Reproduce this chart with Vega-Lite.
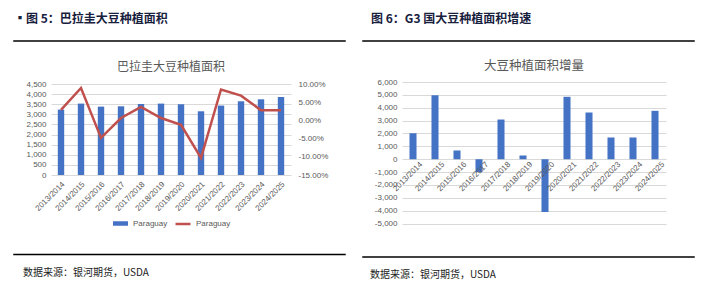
{
  "$schema": "https://vega.github.io/schema/vega-lite/v6.json",
  "background": "white",
  "padding": {"left": 13, "top": 12, "right": 0, "bottom": 0},
  "config": {
    "view": {"stroke": null},
    "font": "Liberation Sans",
    "axis": {"labelColor": "#595959", "labelFontSize": 8, "domain": false, "ticks": false, "gridColor": "#d9d9d9", "title": null, "labelOverlap": false},
    "legend": {"layout": {"bottom": {"anchor": "middle", "direction": "horizontal", "margin": 6}}}
  },
  "spacing": 16,
  "resolve": {"scale": {"fill": "independent", "stroke": "independent"}, "legend": {"fill": "independent", "stroke": "independent"}},
  "hconcat": [
    {
      "spacing": 18.5,
      "resolve": {"scale": {"fill": "independent", "stroke": "independent"}, "legend": {"fill": "independent", "stroke": "independent"}},
      "vconcat": [
        {
          "spacing": 14,
          "resolve": {"scale": {"fill": "independent", "stroke": "independent"}, "legend": {"fill": "independent", "stroke": "independent"}},
          "vconcat": [
            {
              "width": 331, "height": 0.01,
              "view": {"stroke": "black", "strokeWidth": 1.5},
              "data": {"values": [{"part": "header"}]},
              "mark": {"type": "text"},
              "encoding": {"text": {"value": ""}},
              "title": {"text": "▪图 5：巴拉圭大豆种植面积", "anchor": "start", "frame": "group", "font": "Noto Sans CJK SC", "fontSize": 12, "fontWeight": "bold", "color": "#17203d", "offset": 9}
            },
            {
              "spacing": 0,
              "resolve": {"scale": {"fill": "independent", "stroke": "independent"}, "legend": {"fill": "independent", "stroke": "independent"}},
              "hconcat": [
                {
                  "width": 0.01, "height": 0.01,
                  "data": {"values": [{"part": "spacer"}]},
                  "mark": {"type": "text"},
                  "encoding": {"text": {"value": ""}}
                },
                {
                  "width": 240, "height": 91,
                  "title": {"text": "巴拉圭大豆种植面积", "font": "Noto Sans CJK SC", "fontSize": 12, "fontWeight": "normal", "color": "#595959", "offset": 6},
                  "data": {"values": [
                    {"season": "2013/2014", "area": 3234, "growth": 0.029},
                    {"season": "2014/2015", "area": 3531, "growth": 0.089},
                    {"season": "2015/2016", "area": 3382, "growth": -0.048},
                    {"season": "2016/2017", "area": 3397, "growth": 0.0066},
                    {"season": "2017/2018", "area": 3511, "growth": 0.037},
                    {"season": "2018/2019", "area": 3531, "growth": 0.0066},
                    {"season": "2019/2020", "area": 3500, "growth": -0.012},
                    {"season": "2020/2021", "area": 3150, "growth": -0.103},
                    {"season": "2021/2022", "area": 3432, "growth": 0.085},
                    {"season": "2022/2023", "area": 3645, "growth": 0.068},
                    {"season": "2023/2024", "area": 3743, "growth": 0.028},
                    {"season": "2024/2025", "area": 3857, "growth": 0.028}
                  ]},
                  "encoding": {
                    "x": {"field": "season", "type": "ordinal", "sort": null,
                      "scale": {"paddingInner": 0.68, "paddingOuter": 0.34},
                      "axis": {"labelAngle": -45, "labelPadding": 5, "grid": false}}
                  },
                  "layer": [
                    {
                      "mark": {"type": "bar"},
                      "encoding": {
                        "y": {"field": "area", "type": "quantitative", "scale": {"domain": [0, 4500]},
                          "axis": {"values": [0,500,1000,1500,2000,2500,3000,3500,4000,4500], "labelExpr": "format(datum.value, ',')", "labelPadding": 5, "minExtent": 36, "maxExtent": 36}},
                        "fill": {"datum": "Paraguay", "type": "nominal", "scale": {"range": ["#4472C4"]},
                          "legend": {"orient": "bottom", "direction": "horizontal", "title": null, "symbolType": "M-1,-0.3L1,-0.3L1,0.3L-1,0.3Z", "symbolSize": 225, "labelFontSize": 8, "labelColor": "#595959", "offset": 2}}
                      }
                    },
                    {
                      "mark": {"type": "line", "strokeWidth": 2.5},
                      "encoding": {
                        "x": {"field": "season", "type": "ordinal", "sort": null, "bandPosition": 0.5},
                        "y": {"field": "growth", "type": "quantitative", "scale": {"domain": [-0.15, 0.10]},
                          "axis": {"orient": "right", "values": [-0.15,-0.10,-0.05,0,0.05,0.10], "labelExpr": "replace(format(datum.value, '.2%'), '−', '-')", "grid": false, "labelPadding": 7}},
                        "stroke": {"datum": "Paraguay", "type": "nominal", "scale": {"range": ["#C0504D"]},
                          "legend": {"orient": "bottom", "direction": "horizontal", "title": null, "symbolType": "stroke", "symbolSize": 225, "symbolStrokeWidth": 2.5, "labelFontSize": 8, "labelColor": "#595959", "offset": 2}}
                      }
                    }
                  ],
                  "resolve": {"scale": {"y": "independent", "fill": "independent", "stroke": "independent"}, "legend": {"fill": "independent", "stroke": "independent"}}
                }
              ]
            }
          ]
        },
        {
          "width": 331, "height": 0.01,
          "view": {"stroke": "black", "strokeWidth": 1.5},
          "data": {"values": [{"part": "footer"}]},
          "mark": {"type": "text"},
          "encoding": {"text": {"value": ""}},
          "title": {"text": "数据来源：银河期货，USDA", "orient": "bottom", "anchor": "start", "frame": "group", "dx": 9, "font": "Noto Sans CJK SC", "fontSize": 10, "fontWeight": "normal", "color": "#222222", "offset": 8}
        }
      ]
    },
    {
      "spacing": 22,
      "vconcat": [
        {
          "spacing": 12,
          "vconcat": [
            {
              "width": 331, "height": 0.01,
              "view": {"stroke": "black", "strokeWidth": 1.5},
              "data": {"values": [{"part": "header"}]},
              "mark": {"type": "text"},
              "encoding": {"text": {"value": ""}},
              "title": {"text": "图 6：G3 国大豆种植面积增速", "anchor": "start", "frame": "group", "dx": 8, "font": "Noto Sans CJK SC", "fontSize": 12, "fontWeight": "bold", "color": "#17203d", "offset": 9}
            },
            {
              "spacing": 0,
              "hconcat": [
                {
                  "width": 0.01, "height": 0.01,
                  "data": {"values": [{"part": "spacer"}]},
                  "mark": {"type": "text"},
                  "encoding": {"text": {"value": ""}}
                },
                {
                  "width": 264, "height": 141.6,
                  "title": {"text": "大豆种植面积增量", "font": "Noto Sans CJK SC", "fontSize": 12.5, "fontWeight": "normal", "color": "#595959", "offset": 6},
                  "data": {"values": [
                    {"season": "2013/2014", "inc": 2020},
                    {"season": "2014/2015", "inc": 4970},
                    {"season": "2015/2016", "inc": 680},
                    {"season": "2016/2017", "inc": -990},
                    {"season": "2017/2018", "inc": 3085},
                    {"season": "2018/2019", "inc": 290},
                    {"season": "2019/2020", "inc": -4100},
                    {"season": "2020/2021", "inc": 4850},
                    {"season": "2021/2022", "inc": 3630},
                    {"season": "2022/2023", "inc": 1690},
                    {"season": "2023/2024", "inc": 1690},
                    {"season": "2024/2025", "inc": 3760}
                  ]},
                  "encoding": {
                    "x": {"field": "season", "type": "ordinal", "sort": null,
                      "scale": {"paddingInner": 0.68, "paddingOuter": 0.34}, "axis": null}
                  },
                  "layer": [
                    {
                      "mark": {"type": "bar", "color": "#4472C4"},
                      "encoding": {
                        "y": {"field": "inc", "type": "quantitative", "scale": {"domain": [-5000, 6000]},
                          "axis": {"values": [-5000,-4000,-3000,-2000,-1000,0,1000,2000,3000,4000,5000,6000], "labelExpr": "replace(format(datum.value, ','), '−', '-')", "labelPadding": 5, "minExtent": 38, "maxExtent": 38}}
                      }
                    },
                    {
                      "mark": {"type": "text", "angle": -45, "align": "right", "baseline": "top", "fontSize": 8, "color": "#595959", "dx": 3, "dy": 5},
                      "encoding": {
                        "x": {"field": "season", "type": "ordinal", "sort": null, "bandPosition": 0.5},
                        "y": {"datum": 0, "type": "quantitative",
                          "axis": {"values": [-5000,-4000,-3000,-2000,-1000,0,1000,2000,3000,4000,5000,6000], "labelExpr": "replace(format(datum.value, ','), '−', '-')", "labelPadding": 5, "minExtent": 38, "maxExtent": 38}},
                        "text": {"field": "season"}
                      }
                    }
                  ]
                }
              ]
            }
          ]
        },
        {
          "width": 331, "height": 0.01,
          "view": {"stroke": "black", "strokeWidth": 1.5},
          "data": {"values": [{"part": "footer"}]},
          "mark": {"type": "text"},
          "encoding": {"text": {"value": ""}},
          "title": {"text": "数据来源：银河期货，USDA", "orient": "bottom", "anchor": "start", "frame": "group", "dx": 7, "font": "Noto Sans CJK SC", "fontSize": 10, "fontWeight": "normal", "color": "#222222", "offset": 8}
        }
      ]
    }
  ]
}
